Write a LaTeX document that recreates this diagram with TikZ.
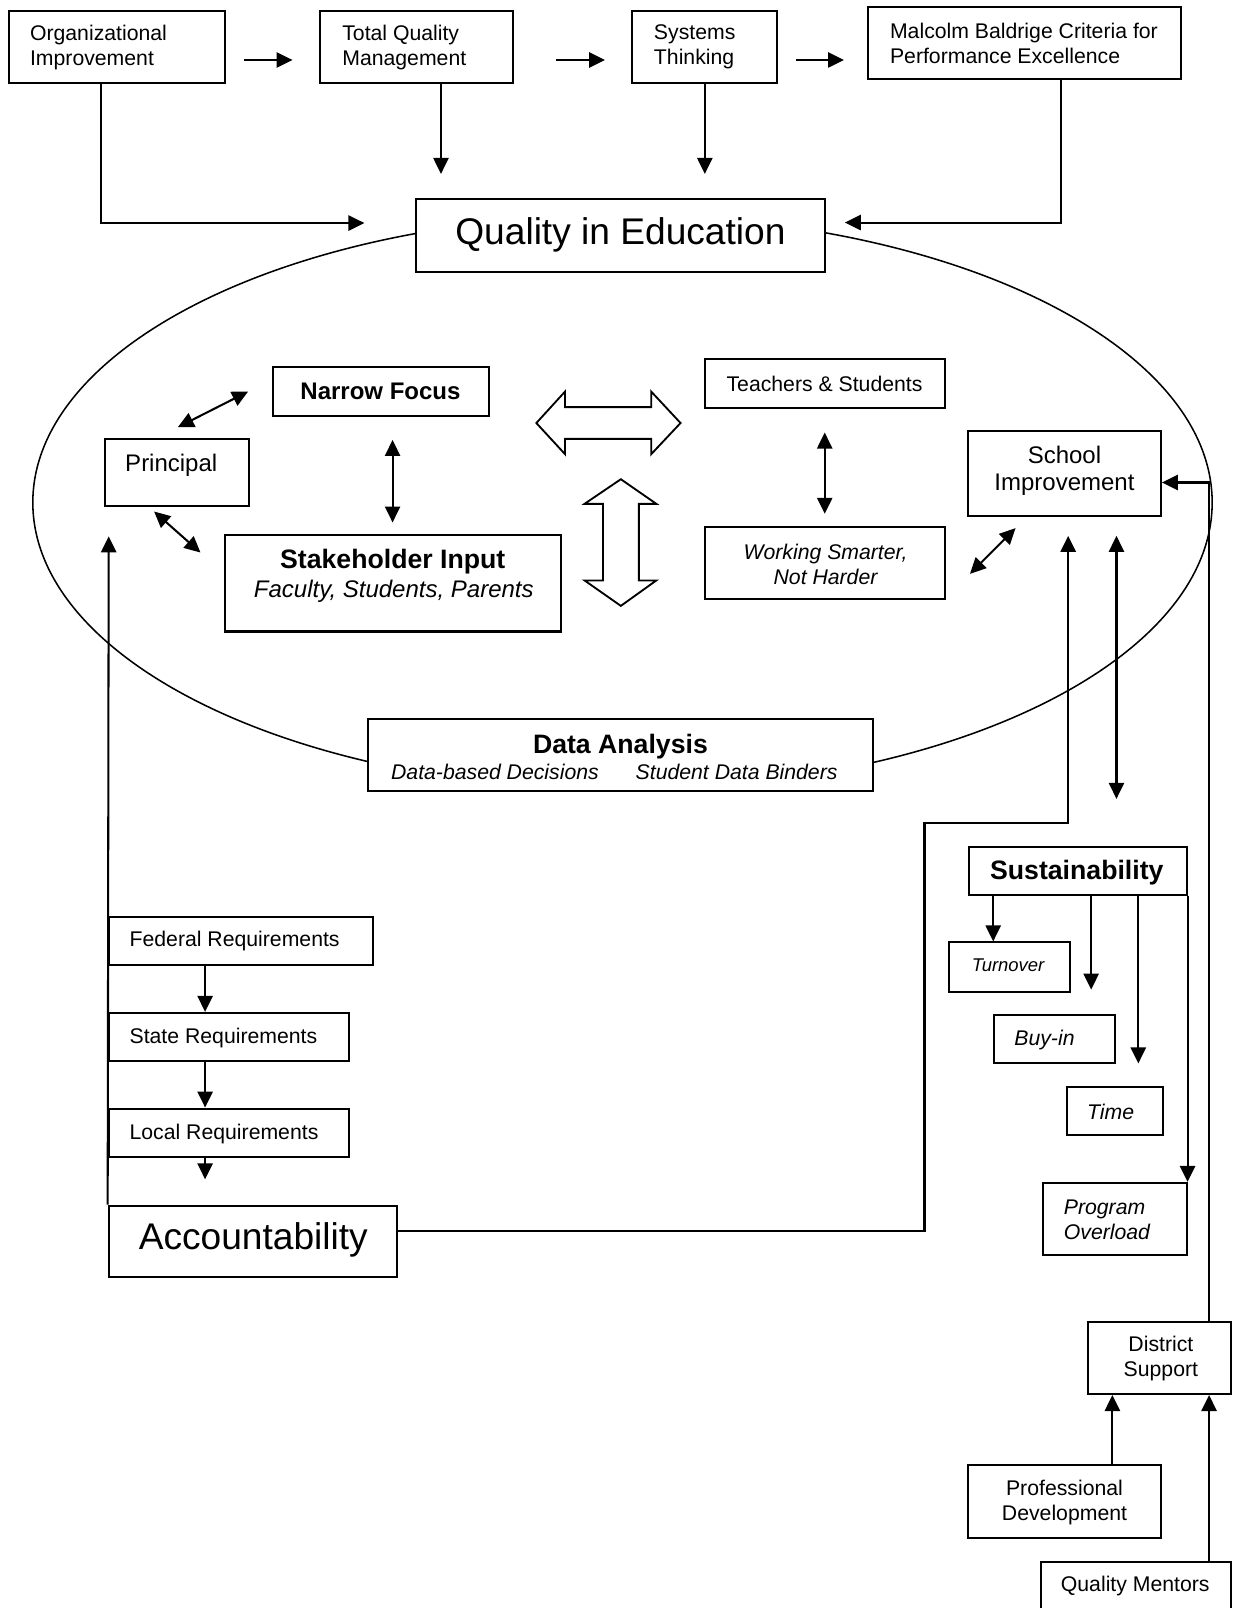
\documentclass[tikz,border=0pt]{standalone}
\usepackage{fontspec}
\setmainfont{Liberation Sans}
\usetikzlibrary{arrows.meta,fit,calc}
\begin{document}
\begin{tikzpicture}[x=0.5pt,y=-0.5pt,
  box/.style={draw, line width=1pt, fill=white, inner sep=0pt},
  arr/.style={line width=1pt, -{Triangle[length=7.8pt,width=7.4pt]}},
  darr/.style={line width=1pt, {Triangle[length=7.8pt,width=7.4pt]}-{Triangle[length=7.8pt,width=7.4pt]}},
  hollow/.style={draw, line width=0.9pt, fill=white},
  txt/.style={inner sep=0pt, font=\fontsize{10.35}{12.2}\selectfont},
  txti/.style={inner sep=0pt, font=\itshape\fontsize{10.35}{12.2}\selectfont},
  txtm/.style={inner sep=0pt, font=\fontsize{11.7}{13.5}\selectfont},
  txtmb/.style={inner sep=0pt, font=\bfseries\fontsize{11.7}{13.5}\selectfont},
  txtmi/.style={inner sep=0pt, font=\itshape\fontsize{11.7}{13.5}\selectfont},
  txtb/.style={inner sep=0pt, font=\bfseries\fontsize{13}{15}\selectfont},
  txtl/.style={inner sep=0pt, font=\fontsize{18.1}{21}\selectfont},
]
\useasboundingbox (0,0) rectangle (1202,1568);
\fill[white] (0,0) rectangle (1202,1568);
\clip (0,0) rectangle (1202,1568);

% big ellipse
\draw[line width=0.75pt] (607,490) ellipse [x radius=287.5pt, y radius=140pt];

% boxes
\node[box, fit={(8.5,10.7)(219.7,81.2)}] (oi) {};
\node[box, fit={(312,10.7)(500.3,81.2)}] (tqm) {};
\node[box, fit={(616.4,10.7)(757.3,81.2)}] (st) {};
\node[box, fit={(846.7,6.5)(1151.7,77.3)}] (mb) {};
\node[box, fit={(406,194)(804.2,264.9)}] (qie) {};
\node[box, fit={(266,358)(476.8,405.2)}] (nf) {};
\node[box, fit={(102.2,428)(242.8,493)}] (pr) {};
\node[box, fit={(219,521.6)(547.4,615.8)}] (sh) {};
\node[box, fit={(687,350)(921.4,397.4)}] (ts) {};
\node[box, fit={(687,514)(921.4,584)}] (ws) {};
\node[box, fit={(944.3,420)(1132,502.7)}] (si) {};
\node[box, fit={(359.3,701.2)(851.4,771)}] (da) {};
\node[box, fit={(945,826)(1157,872.5)}] (su) {};
\node[box, fit={(925.6,919)(1043,967)}] (to) {};
\node[box, fit={(969,990)(1087,1037)}] (bi) {};
\node[box, fit={(1040,1059.5)(1134,1106.5)}] (ti) {};
\node[box, fit={(1017,1153.5)(1157,1223.6)}] (po) {};
\node[box, fit={(106,894.6)(363.8,941.4)}] (fr) {};
\node[box, fit={(106,987.7)(340.5,1035)}] (sr) {};
\node[box, fit={(106,1081)(340.5,1128)}] (lr) {};
\node[box, fit={(106,1175.7)(387,1245.6)}] (ac) {};
\node[box, fit={(1061,1289.4)(1200.8,1359.3)}] (ds) {};
\node[box, fit={(944,1429)(1132,1499.6)}] (pd) {};
\node[box, fit={(1015,1523)(1200.8,1590)}] (qm) {};

% texts
\node[txt, anchor=west, align=left] (oit) at (28.9,46) {Organizational\\Improvement};
\node[txt, anchor=west, align=left] (tqmt) at (333.4,46) {Total Quality\\Management};
\node[txt, anchor=west, align=left] (stt) at (637.3,46) {Systems\\Thinking};
\node[txt, anchor=west, align=left] (mbt) at (867.5,42) {Malcolm Baldrige Criteria for\\Performance Excellence};
\node[txtl] (qiet) at (605,229) {Quality in Education};
\node[txtmb] (nft) at (371,382) {Narrow Focus};
\node[txtm] (prt) at (167,454) {Principal};
\node[txtb] (sht1) at (383,548) {Stakeholder Input};
\node[txtmi] (sht2) at (384,577) {Faculty, Students, Parents};
\node[txt] (tst) at (804,374) {Teachers \& Students};
\node[txti, align=center] (wst) at (805,550) {Working Smarter,\\Not Harder};
\node[txtm, align=center] (sit) at (1038,459) {School\\Improvement};
\node[txtb] (dat) at (605,728) {Data Analysis};
\node[txti, anchor=west] (dat2) at (381,753) {Data-based Decisions};
\node[txti, anchor=west] (dat3) at (619.5,753) {Student Data Binders};
\node[txtb] (sut) at (1050,851) {Sustainability};
\node[inner sep=0pt, font=\itshape\fontsize{9}{11}\selectfont] (tot) at (983,941) {Turnover};
\node[txti] (bit) at (1018.5,1014) {Buy-in};
\node[txti] (tit) at (1083,1084) {Time};
\node[txti, anchor=west, align=left] (pot) at (1037,1189) {Program\\Overload};
\node[txt, anchor=west] (frt) at (126,918) {Federal Requirements};
\node[txt, anchor=west] (srt) at (126,1012) {State Requirements};
\node[txt, anchor=west] (lrt) at (126,1106) {Local Requirements};
\node[txtl] (act) at (247,1209) {Accountability};
\node[txt, align=center] (dst) at (1132,1325) {District\\Support};
\node[txt, align=center] (pdt) at (1038,1465) {Professional\\Development};
\node[txt] (qmt) at (1107,1547) {Quality Mentors};

% free-end coordinates
\coordinate (a1s) at (237.8,58.5);  \coordinate (a1e) at (285.3,58.5);
\coordinate (a2s) at (542,58.5);    \coordinate (a2e) at (590,58.5);
\coordinate (a3s) at (776.6,58.5);  \coordinate (a3e) at (823,58.5);
\coordinate (qieL) at (355.4,217.5);
\coordinate (qieT1) at (430,169.6);
\coordinate (qieT2) at (687.3,169.6);
\coordinate (qieR) at (823.8,217);
\coordinate (pnA) at (173.4,416.6); \coordinate (pnB) at (242,381.8);
\coordinate (psA) at (150.3,498.8); \coordinate (psB) at (195.5,538.8);
\coordinate (nsA) at (382.8,429);   \coordinate (nsB) at (382.8,509.5);
\coordinate (twA) at (804.2,421.8); \coordinate (twB) at (804.2,501);
\coordinate (wsA) at (945.8,559.6); \coordinate (wsB) at (990.3,515);
\coordinate (siA) at (1041.6,522.5);
\coordinate (siB) at (1088.7,522.5); \coordinate (siBb) at (1088.7,779);
\coordinate (su2) at (1064,965);
\coordinate (su3) at (1110,1037);
\coordinate (lrA) at (200,1150);
\coordinate (prA) at (106,523);

% top row arrows
\draw[arr] (a1s) -- (a1e);
\draw[arr] (a2s) -- (a2e);
\draw[arr] (a3s) -- (a3e);
\draw[arr] (oi.south -| 98.7,0) -- (98.7,217.5) -- (qieL);
\draw[arr] (tqm.south -| 430,0) -- (qieT1);
\draw[arr] (st.south -| 687.3,0) -- (qieT2);
\draw[arr] (mb.south -| 1034.4,0) -- (1034.4,217) -- (qieR);

% inner arrows
\draw[darr] (pnA) -- (pnB);
\draw[darr] (psA) -- (psB);
\draw[darr] (nsA) -- (nsB);
\draw[darr] (twA) -- (twB);
\draw[darr] (wsA) -- (wsB);

% hollow double arrows
\draw[hollow] (523,412.5) -- (551,381.8) -- (551,397) -- (635,397) -- (635,381.8) -- (663.6,412.5)
  -- (635,442.9) -- (635,428) -- (551,428) -- (551,442.9) -- cycle;
\draw[hollow] (605.4,467.3) -- (640,491.3) -- (623,491.3) -- (623,566) -- (640,566) -- (605.4,590.8)
  -- (570,566) -- (588,566) -- (588,491.3) -- (570,491.3) -- cycle;

% accountability to school improvement
\draw[arr] (ac.east |- 0,1200.5) -- (901.5,1200.5) -- (901.5,802.5) -- (1041.6,802.5) -- (siA);
\draw[darr] (siB) -- (siBb);
\draw[arr] (ds.north -| 1179,0) -- (1179,470.5) -- (si.east |- 0,470.5);

% sustainability
\draw[arr] (su.south -| 968.5,0) -- (to.north -| 968.5,0);
\draw[arr] (su.south -| 1064,0) -- (su2);
\draw[arr] (su.south -| 1110,0) -- (su3);
\draw[arr] (su.south east) -- (po.north east);

% requirements
\draw[arr] (fr.south -| 200,0) -- (sr.north -| 200,0);
\draw[arr] (sr.south -| 200,0) -- (lr.north -| 200,0);
\draw[arr] (lr.south -| 200,0) -- (lrA);
\draw[arr] (ac.north west) -- (prA);

% district support
\draw[arr] (pd.north -| 1084.7,0) -- (ds.south -| 1084.7,0);
\draw[arr] (qm.north -| 1179,0) -- (ds.south -| 1179,0);
\end{tikzpicture}
\end{document}
